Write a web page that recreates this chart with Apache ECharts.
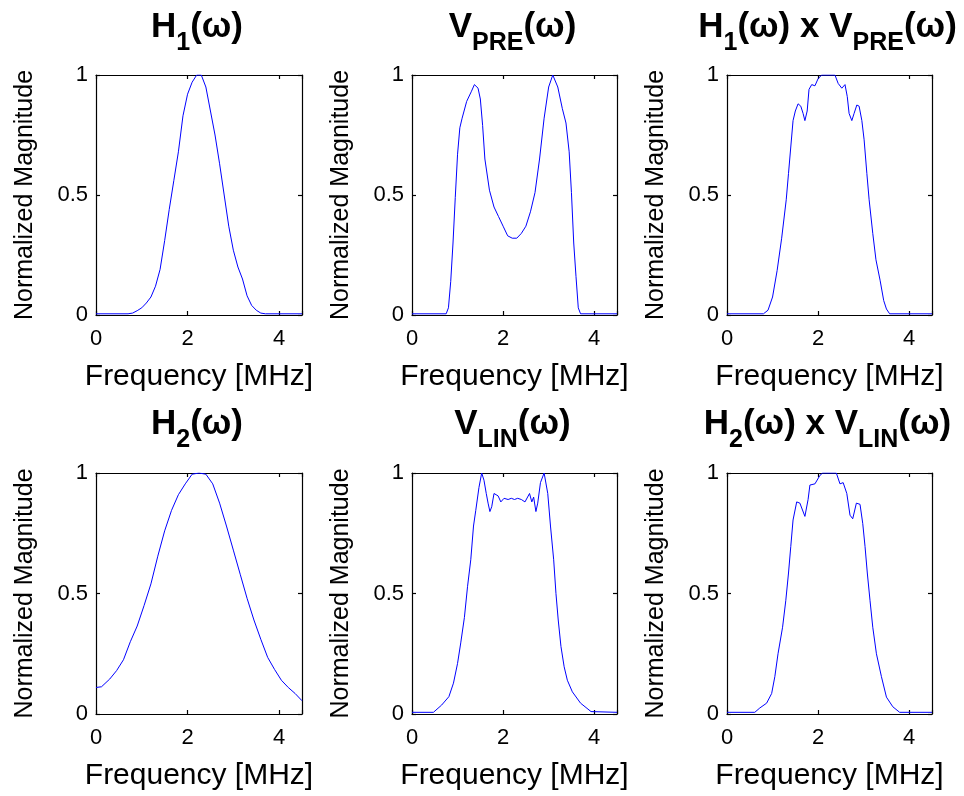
<!DOCTYPE html>
<html>
<head>
<meta charset="utf-8">
<script src="https://cdn.jsdelivr.net/npm/echarts@6/dist/echarts.min.js"></script>
<style>
  html, body { margin: 0; padding: 0; background: #fff; }
  #charts { width: 964px; height: 796px; }
</style>
</head>
<body>
<div id="charts"></div>
<script>
  // frequency [MHz] and normalized magnitude
  const h1Freq = [0, 0.7, 0.8, 0.9, 1.0, 1.1, 1.2, 1.3, 1.4, 1.5, 1.6, 1.7, 1.8, 1.9, 2.0, 2.1, 2.2, 2.3, 2.4, 2.5, 2.6, 2.7, 2.8, 2.9, 3.0, 3.1, 3.2, 3.3, 3.4, 3.5, 3.6, 3.7, 4.5]
  const h1Mag = [0.005, 0.005, 0.008, 0.018, 0.03, 0.05, 0.075, 0.12, 0.19, 0.31, 0.44, 0.56, 0.68, 0.83, 0.92, 0.97, 1.0, 1.0, 0.95, 0.85, 0.75, 0.63, 0.50, 0.37, 0.27, 0.20, 0.15, 0.08, 0.04, 0.02, 0.008, 0.005, 0.005]

  const vpreFreq = [0, 0.75, 0.8, 0.85, 0.9, 0.95, 1.0, 1.05, 1.1, 1.2, 1.3, 1.37, 1.45, 1.5, 1.55, 1.6, 1.7, 1.8, 1.9, 2.0, 2.1, 2.2, 2.3, 2.4, 2.5, 2.6, 2.7, 2.8, 2.9, 3.0, 3.09, 3.2, 3.3, 3.38, 3.45, 3.5, 3.55, 3.6, 3.65, 3.7, 4.5]
  const vpreMag = [0.005, 0.005, 0.03, 0.14, 0.30, 0.49, 0.67, 0.78, 0.82, 0.89, 0.93, 0.96, 0.945, 0.90, 0.79, 0.65, 0.52, 0.45, 0.41, 0.37, 0.33, 0.32, 0.32, 0.34, 0.37, 0.43, 0.51, 0.65, 0.82, 0.95, 1.0, 0.95, 0.86, 0.80, 0.68, 0.51, 0.30, 0.16, 0.03, 0.005, 0.005]

  const prod1Freq = [0, 0.8, 0.9, 1.0, 1.1, 1.2, 1.3, 1.35, 1.4, 1.45, 1.5, 1.56, 1.62, 1.67, 1.71, 1.76, 1.8, 1.86, 1.93, 2.0, 2.08, 2.37, 2.44, 2.52, 2.59, 2.64, 2.68, 2.74, 2.79, 2.85, 2.9, 2.96, 3.01, 3.07, 3.12, 3.2, 3.27, 3.36, 3.44, 3.5, 3.57, 4.5]
  const prod1Mag = [0.005, 0.005, 0.02, 0.075, 0.185, 0.32, 0.48, 0.59, 0.70, 0.81, 0.85, 0.88, 0.87, 0.84, 0.81, 0.85, 0.94, 0.96, 0.955, 0.985, 1.0, 1.0, 0.965, 0.945, 0.96, 0.91, 0.84, 0.81, 0.84, 0.875, 0.87, 0.81, 0.73, 0.59, 0.48, 0.34, 0.23, 0.145, 0.06, 0.025, 0.005, 0.005]

  const h2Freq = [0, 0.12, 0.3, 0.45, 0.6, 0.75, 0.9, 1.05, 1.2, 1.35, 1.5, 1.65, 1.8, 1.95, 2.1, 2.25, 2.4, 2.55, 2.7, 2.85, 3.0, 3.15, 3.3, 3.45, 3.6, 3.75, 3.9, 4.05, 4.2, 4.35, 4.5]
  const h2Mag = [0.11, 0.113, 0.145, 0.18, 0.225, 0.30, 0.365, 0.45, 0.54, 0.655, 0.76, 0.845, 0.91, 0.955, 0.995, 1.0, 0.995, 0.955, 0.875, 0.78, 0.68, 0.58, 0.48, 0.39, 0.31, 0.235, 0.185, 0.14, 0.11, 0.085, 0.055]

  const vlinFreq = [0, 0.47, 0.65, 0.81, 0.91, 1.0, 1.07, 1.15, 1.22, 1.29, 1.35, 1.4, 1.47, 1.53, 1.58, 1.63, 1.67, 1.71, 1.75, 1.8, 1.84, 1.89, 1.95, 2.02, 2.11, 2.18, 2.25, 2.32, 2.4, 2.48, 2.58, 2.63, 2.67, 2.72, 2.76, 2.82, 2.9, 2.98, 3.04, 3.11, 3.16, 3.21, 3.27, 3.34, 3.41, 3.52, 3.7, 3.93, 4.5]
  const vlinMag = [0.007, 0.007, 0.037, 0.072, 0.128, 0.21, 0.295, 0.40, 0.53, 0.64, 0.78, 0.845, 0.94, 1.0, 0.97, 0.915, 0.875, 0.84, 0.86, 0.915, 0.915, 0.905, 0.88, 0.895, 0.89, 0.895, 0.89, 0.895, 0.89, 0.88, 0.915, 0.88, 0.90, 0.84, 0.875, 0.96, 1.0, 0.915, 0.78, 0.64, 0.50, 0.39, 0.28, 0.196, 0.14, 0.092, 0.045, 0.01, 0.007]

  const prod2Freq = [0, 0.61, 0.72, 0.87, 0.98, 1.05, 1.12, 1.22, 1.29, 1.35, 1.40, 1.45, 1.53, 1.60, 1.71, 1.78, 1.82, 1.93, 2.04, 2.1, 2.4, 2.48, 2.55, 2.63, 2.70, 2.76, 2.84, 2.92, 2.98, 3.03, 3.08, 3.14, 3.2, 3.28, 3.39, 3.5, 3.64, 3.79, 4.5]
  const prod2Mag = [0.007, 0.007, 0.025, 0.045, 0.085, 0.155, 0.25, 0.36, 0.47, 0.585, 0.695, 0.805, 0.88, 0.875, 0.82, 0.89, 0.95, 0.955, 0.99, 1.0, 1.0, 0.955, 0.96, 0.915, 0.825, 0.81, 0.875, 0.87, 0.79, 0.695, 0.585, 0.47, 0.36, 0.25, 0.155, 0.07, 0.03, 0.007, 0.007]

  // rich text titles, {s|..} is the subscript
  const titles = [
    '{b|H}{s|1}{b|(ω)}',
    '{b|V}{s|PRE}{b|(ω)}',
    '{b|H}{s|1}{b|(ω) x V}{s|PRE}{b|(ω)}',
    '{b|H}{s|2}{b|(ω)}',
    '{b|V}{s|LIN}{b|(ω)}',
    '{b|H}{s|2}{b|(ω) x V}{s|LIN}{b|(ω)}'
  ]
  const freqs = [h1Freq, vpreFreq, prod1Freq, h2Freq, vlinFreq, prod2Freq]
  const mags = [h1Mag, vpreMag, prod1Mag, h2Mag, vlinMag, prod2Mag]

  const xRange = [0, 4.5]
  const xStep = 2
  const yRange = [0, 1]
  const yStep = 0.5
  const xName = 'Frequency [MHz]'
  const yName = 'Normalized Magnitude'

  const FONT = 'Liberation Sans, Arial, sans-serif'
  const cols = [{ left: 96, width: 206 }, { left: 412, width: 205 }, { left: 727, width: 205 }]
  const rows = [{ top: 75, height: 240, titleTop: 7 }, { top: 473, height: 241, titleTop: 404 }]

  const grid = []
  const xAxis = []
  const yAxis = []
  const series = []
  const title = []

  const lineStyle = { color: '#000', width: 1.2 }
  const tickStyle = { show: true, inside: true, length: 4, lineStyle: { color: '#000', width: 1.2 } }

  for (let i = 0; i < 6; i++) {
    const c = cols[i % 3]
    const r = rows[Math.floor(i / 3)]
    grid.push({ left: c.left, top: r.top, width: c.width, height: r.height, containLabel: false })

    title.push({
      text: titles[i],
      left: c.left + c.width / 2 - 2,
      top: r.titleTop,
      padding: 0,
      textAlign: 'center',
      textStyle: {
        rich: {
          b: { fontFamily: FONT, fontWeight: 'bold', fontSize: 35, color: '#000', lineHeight: 40 },
          s: { fontFamily: FONT, fontWeight: 'bold', fontSize: 25, color: '#000', lineHeight: 40, padding: [32, 0, 0, 0] }
        }
      }
    })

    // bottom + top x axes, left + right y axes to close the box
    xAxis.push({
      type: 'value', gridIndex: i, position: 'bottom',
      min: xRange[0], max: xRange[1], interval: xStep,
      axisLine: { onZero: false, lineStyle },
      axisTick: tickStyle,
      splitLine: { show: false },
      axisLabel: {
        color: '#000', fontFamily: FONT, fontSize: 22, margin: 13,
        formatter: v => (v % xStep === 0 ? String(v) : '')
      },
      name: xName, nameLocation: 'middle', nameGap: 47,
      nameTextStyle: { color: '#000', fontFamily: FONT, fontSize: 30 }
    })
    xAxis.push({
      type: 'value', gridIndex: i, position: 'top',
      min: xRange[0], max: xRange[1], interval: xStep,
      axisLine: { onZero: false, lineStyle },
      axisTick: tickStyle,
      splitLine: { show: false },
      axisLabel: { show: false }
    })
    yAxis.push({
      type: 'value', gridIndex: i, position: 'left',
      min: yRange[0], max: yRange[1], interval: yStep,
      axisLine: { show: true, onZero: false, lineStyle },
      axisTick: tickStyle,
      splitLine: { show: false },
      axisLabel: { color: '#000', fontFamily: FONT, fontSize: 22, margin: 8 },
      name: yName, nameLocation: 'middle', nameGap: 58,
      nameTextStyle: { color: '#000', fontFamily: FONT, fontSize: 25 }
    })
    yAxis.push({
      type: 'value', gridIndex: i, position: 'right',
      min: yRange[0], max: yRange[1], interval: yStep,
      axisLine: { show: true, onZero: false, lineStyle },
      axisTick: tickStyle,
      splitLine: { show: false },
      axisLabel: { show: false }
    })

    series.push({
      type: 'line',
      xAxisIndex: i * 2,
      yAxisIndex: i * 2,
      data: freqs[i].map((f, k) => [f, mags[i][k]]),
      showSymbol: false,
      symbol: 'none',
      lineStyle: { color: '#0000ff', width: 1 },
      silent: true
    })
  }

  const chart = echarts.init(document.getElementById('charts'))
  chart.setOption({
    backgroundColor: '#fff',
    animation: false,
    title,
    grid,
    xAxis,
    yAxis,
    series
  })
</script>
</body>
</html>
